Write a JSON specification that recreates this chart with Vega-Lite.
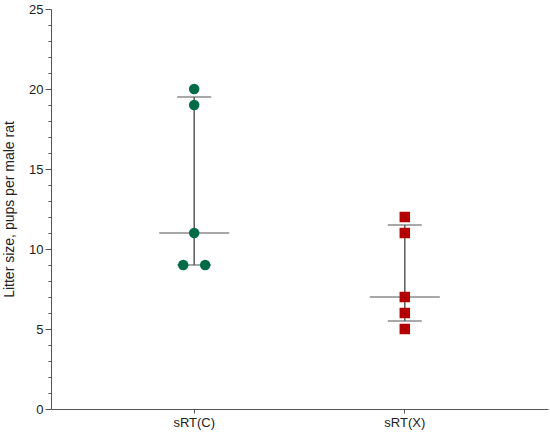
{
  "$schema": "https://vega.github.io/schema/vega-lite/v6.json",
  "background": "white",
  "width": 497,
  "height": 400,
  "autosize": {"type": "none"},
  "padding": {"left": 51, "top": 9, "right": 2, "bottom": 26},
  "config": {
    "view": {"stroke": null},
    "font": "Liberation Sans",
    "axis": {
      "grid": false,
      "domainColor": "#555555",
      "tickColor": "#555555",
      "labelColor": "#222222",
      "labelFontSize": 13,
      "titleFontSize": 14,
      "titleFontWeight": "normal",
      "titleColor": "#222222"
    }
  },
  "datasets": {
    "litters": [
      {"group": "sRT(C)", "pups": 20, "slot": 0},
      {"group": "sRT(C)", "pups": 19, "slot": 0},
      {"group": "sRT(C)", "pups": 11, "slot": 0},
      {"group": "sRT(C)", "pups": 9, "slot": -1},
      {"group": "sRT(C)", "pups": 9, "slot": 1},
      {"group": "sRT(X)", "pups": 12, "slot": 0},
      {"group": "sRT(X)", "pups": 11, "slot": 0},
      {"group": "sRT(X)", "pups": 7, "slot": 0},
      {"group": "sRT(X)", "pups": 6, "slot": 0},
      {"group": "sRT(X)", "pups": 5, "slot": 0}
    ],
    "summary": [
      {"group": "sRT(C)", "median": 11, "q1": 9, "q3": 19.5},
      {"group": "sRT(X)", "median": 7, "q1": 5.5, "q3": 11.5}
    ]
  },
  "encoding": {
    "x": {
      "field": "group",
      "type": "nominal",
      "title": null,
      "scale": {"type": "band", "paddingInner": 0, "paddingOuter": 0.18},
      "axis": {"labelAngle": 0, "tickSize": 4, "labelPadding": 3}
    },
    "y": {
      "type": "quantitative",
      "title": "Litter size, pups per male rat",
      "scale": {"domain": [0, 25], "nice": false},
      "axis": {
        "values": [0, 1, 2, 3, 4, 5, 6, 7, 8, 9, 10, 11, 12, 13, 14, 15, 16, 17, 18, 19, 20, 21, 22, 23, 24, 25],
        "labelExpr": "datum.value % 5 === 0 ? datum.label : ''",
        "labelOverlap": false,
        "labelFlush": false,
        "tickSize": {"condition": {"test": "datum.value % 5 === 0", "value": 6}, "value": 3},
        "labelPadding": 2,
        "titlePadding": 12
      }
    }
  },
  "layer": [
    {
      "data": {"name": "summary"},
      "mark": {"type": "rule", "color": "#5a5a5a", "strokeWidth": 1.5},
      "encoding": {
        "y": {"field": "q1"},
        "y2": {"field": "q3"}
      }
    },
    {
      "data": {"name": "summary"},
      "mark": {"type": "tick", "color": "#5a5a5a", "thickness": 1.5, "size": 70},
      "encoding": {
        "y": {"field": "median"}
      }
    },
    {
      "data": {"name": "summary"},
      "transform": [{"fold": ["q1", "q3"], "as": ["stat", "level"]}],
      "mark": {"type": "tick", "color": "#5a5a5a", "thickness": 1.5, "size": 34},
      "encoding": {
        "y": {"field": "level"}
      }
    },
    {
      "data": {"name": "litters"},
      "mark": {"type": "point", "filled": true, "opacity": 1},
      "encoding": {
        "y": {"field": "pups"},
        "xOffset": {
          "field": "slot",
          "type": "quantitative",
          "scale": {"domain": [-9.6, 9.6]}
        },
        "shape": {
          "field": "group",
          "type": "nominal",
          "scale": {"range": ["circle", "square"]},
          "legend": null
        },
        "color": {
          "field": "group",
          "type": "nominal",
          "scale": {"range": ["#006b45", "#b30000"]},
          "legend": null
        },
        "size": {"value": 110}
      }
    }
  ]
}
